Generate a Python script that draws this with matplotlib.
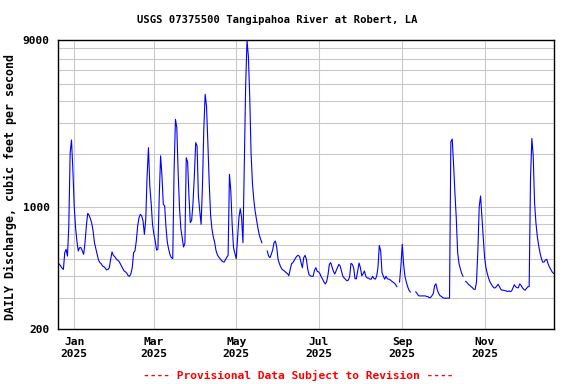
import matplotlib
matplotlib.use("Agg")
import matplotlib.pyplot as plt
from matplotlib.ticker import FixedLocator, NullFormatter
import numpy as np
import pandas as pd

nan = np.nan

# daily discharge (cfs), first value is 2024-12-20, gaps are missing days
start_date = "2024-12-20"
discharge = [
    479, 468, 458, 445, 438, 546, 570, 522, 775, 2030,
    2400, 1630, 1010, 760, 636, 558, 583, 583, 558, 534,
    622, 775, 915, 893, 853, 803, 726, 622, 575, 534,
    495, 479, 472, 458, 454, 445, 435, 438, 448, 500,
    551, 527, 518, 504, 495, 489, 474, 458, 442, 429,
    424, 416, 403, 400, 414, 448, 546, 558, 636, 775,
    864, 903, 884, 828, 694, 846, 1500, 2170, 1310, 1050,
    792, 700, 636, 565, 570, 1150, 1950, 1500, 1030, 1010,
    760, 622, 570, 530, 511, 505, 1630, 3150, 2830, 1560,
    986, 748, 665, 588, 617, 1900, 1800, 1150, 810, 835,
    1050, 1500, 2320, 2220, 1150, 944, 792, 1310, 2760, 4380,
    3750, 2320, 1370, 903, 748, 673, 627, 563, 532, 516,
    504, 493, 485, 482, 498, 513, 527, 1530, 1230, 792,
    583, 541, 504, 665, 864, 973, 864, 622, 1780, 4900,
    8900, 7250, 4280, 2030, 1370, 1100, 944, 846, 760, 694,
    654, 622, nan, nan, nan, 558, 522, 511, 534, 565,
    622, 636, 588, 500, 472, 452, 438, 433, 427, 420,
    414, 403, 438, 472, 479, 493, 509, 522, 527, 518,
    479, 448, 511, 527, 500, 438, 408, 402, 400, 400,
    433, 448, 427, 424, 414, 397, 385, 371, 362, 373,
    409, 468, 479, 452, 427, 412, 429, 448, 468, 458,
    429, 400, 391, 384, 377, 380, 397, 474, 468, 448,
    387, 387, 429, 476, 448, 403, 414, 429, 400, 391,
    391, 385, 385, 400, 389, 385, 399, 448, 600, 560,
    420, 400, 385, 400, 387, 385, 382, 376, 371, 366,
    360, 349, nan, 371, 458, 609, 468, 400, 371, 349,
    333, 325, nan, nan, nan, 326, 319, 310, 309, 309,
    309, 309, 309, 307, 306, 302, 303, 310, 319, 355,
    362, 333, 319, 310, 307, 302, 300, 300, 300, 300,
    300, 2350, 2430, 1750, 1200, 864, 550, 474, 442, 416,
    400, nan, 374, 368, 360, 355, 349, 344, 337, 337,
    372, 560, 1000, 1150, 870, 665, 511, 448, 414, 389,
    371, 360, 350, 343, 344, 352, 360, 349, 337, 333,
    333, 331, 330, 327, 330, 327, 330, 343, 358, 349,
    344, 344, 362, 355, 344, 337, 333, 341, 349, 349,
    1450, 2450, 1950, 1053, 810, 679, 601, 546, 507, 482,
    482, 495, 500, 472, 452, 438, 424, 416,
]

tick_dates = ["2025-01-01", "2025-03-01", "2025-05-01",
              "2025-07-01", "2025-09-01", "2025-11-01"]
tick_labels = ["Jan\n2025", "Mar\n2025", "May\n2025",
               "Jul\n2025", "Sep\n2025", "Nov\n2025"]
y_ticks = [200, 1000, 9000]
y_grid = [300, 400, 500, 600, 700, 800, 900,
          2000, 3000, 4000, 5000, 6000, 7000, 8000]

dates = pd.date_range(start_date, periods=len(discharge), freq="D")

plt.rcParams["font.family"] = "DejaVu Sans Mono"
plt.rcParams["font.weight"] = "bold"

fig = plt.figure(figsize=(5.76, 3.84), dpi=100)
ax = fig.add_axes([58 / 576, 1 - 329 / 384, 496 / 576, 289.5 / 384])

ax.plot(dates, discharge, color="#0000ff", lw=0.8)

ax.set_yscale("log")
ax.set_ylim(200, 9000)
ax.set_xlim(pd.Timestamp(start_date), pd.Timestamp(start_date) + pd.Timedelta(days=367.4))

ax.yaxis.set_major_locator(FixedLocator(y_ticks))
ax.set_yticklabels([str(v) for v in y_ticks])
ax.yaxis.set_minor_locator(FixedLocator(y_grid))
ax.yaxis.set_minor_formatter(NullFormatter())
ax.set_xticks(pd.to_datetime(tick_dates))
ax.set_xticklabels(tick_labels)

ax.grid(True, which="both", axis="y", color="#c8c8c8", lw=0.75)
ax.grid(True, which="major", axis="x", color="#c8c8c8", lw=0.75)
ax.set_axisbelow(True)
ax.tick_params(which="both", length=0, labelsize=8.1)
ax.tick_params(axis="y", pad=6)
ax.tick_params(axis="x", pad=6)
for s in ax.spines.values():
    s.set_color("black")
    s.set_linewidth(1)

fig.text(0.482, 1 - 20 / 384, "USGS 07375500 Tangipahoa River at Robert, LA",
         ha="center", va="center", fontsize=7.6)
fig.text(0.019, 0.512, "DAILY Discharge, cubic feet per second",
         rotation=90, ha="center", va="center", fontsize=8.4)
fig.text(0.517, 1 - 375 / 384, "---- Provisional Data Subject to Revision ----",
         ha="center", va="center", fontsize=8.1, color="red")

fig.savefig("out.png", dpi=100)
